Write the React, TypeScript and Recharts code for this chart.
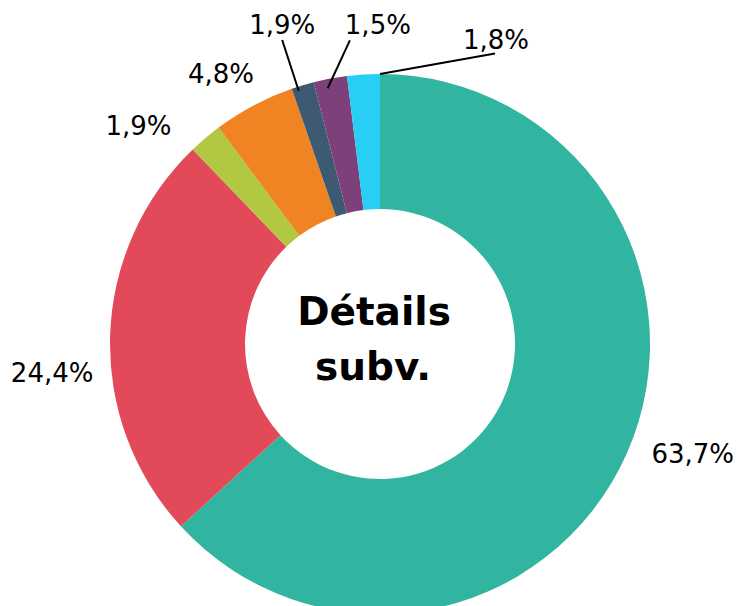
import React from 'react';
import { PieChart, Pie, Cell, Label } from 'recharts';

// slices, clockwise from 12 o'clock
const categories = ['Subv. A', 'Subv. B', 'Subv. C', 'Subv. D', 'Subv. E', 'Subv. F', 'Subv. G'];
const shares = [63.2, 24.6, 2.0, 4.9, 1.35, 2.0, 1.95];
// percentages as printed next to each slice
const printed = [63.7, 24.4, 1.9, 4.8, 1.9, 1.5, 1.8];
const centerTitle = ['Détails', 'subv.'];

const colors = ['#31B4A0', '#E24A5A', '#B2C842', '#F08422', '#3E5A73', '#7E407A', '#26CFF3'];

// label layout tweaks (text baseline shift from the slice's mid-angle anchor)
const labelNudge = [
    { dx: 29, dy: -6 },
    { dx: -18, dy: 48 },
    { dx: -41, dy: 27 },
    { dx: -14, dy: 13 },
    { dx: -9, dy: -13 },
    { dx: 55, dy: -5 },
    { dx: 135, dy: 14 },
];

// leader lines for the thin slices: start angle shift / radius, end relative to label baseline
const leaders: Record<number, { da: number; r: number; ex: number; ey: number }> = {
    4: { da: 1.15, r: 266, ex: 0, ey: 6 },
    5: { da: 0.94, r: 261, ex: -28, ey: 6 },
    6: { da: -3.51, r: 270, ex: -1, ey: 5 },
};

const data = categories.map((name, i) => ({ name, value: shares[i], printed: printed[i] }));

const RAD = Math.PI / 180;
const FONT = '"DejaVu Sans", Verdana, sans-serif';

const fmt = (v: number) => v.toFixed(1).replace('.', ',') + '%';

const renderLabel = (props: any) => {
    const { cx, cy, midAngle, outerRadius, index } = props;
    const r = outerRadius + 40;
    const bx = cx + r * Math.cos(-midAngle * RAD);
    const by = cy + r * Math.sin(-midAngle * RAD);
    const n = labelNudge[index];
    const x = bx + n.dx;
    const y = by + n.dy;
    const lead = leaders[index];
    let line = null;
    if (lead) {
        const a = midAngle + lead.da;
        const sx = cx + lead.r * Math.cos(-a * RAD);
        const sy = cy + lead.r * Math.sin(-a * RAD);
        line = <line x1={sx} y1={sy} x2={x + lead.ex} y2={y + lead.ey} stroke="#000" strokeWidth={2} />;
    }
    return (
        <g key={`lbl-${index}`}>
            {line}
            <text x={x} y={y} textAnchor="middle" fill="#000" fontFamily={FONT} fontSize={26}>
                {fmt(data[index].printed)}
            </text>
        </g>
    );
};

const renderCenter = (props: any) => {
    const vb = props.viewBox || {};
    const cx = vb.cx ?? 380;
    const cy = vb.cy ?? 344;
    return (
        <g>
            <text x={cx - 6} y={cy - 19} textAnchor="middle" fill="#000" fontFamily={FONT} fontWeight="bold" fontSize={39}>
                {centerTitle[0]}
            </text>
            <text x={cx - 7} y={cy + 36} textAnchor="middle" fill="#000" fontFamily={FONT} fontWeight="bold" fontSize={39}>
                {centerTitle[1]}
            </text>
        </g>
    );
};

export default function App() {
    return (
        <div style={{ position: 'absolute', left: 0, top: 0, width: 739, height: 606, background: '#fff', overflow: 'hidden' }}>
            <PieChart width={739} height={606} margin={{ top: 0, right: 0, bottom: 0, left: 0 }}>
                <Pie
                    data={data}
                    dataKey="value"
                    nameKey="name"
                    cx={380}
                    cy={344}
                    innerRadius={135}
                    outerRadius={270}
                    startAngle={90}
                    endAngle={-270}
                    stroke="none"
                    label={renderLabel}
                    labelLine={false}
                    isAnimationActive={false}
                >
                    {data.map((d, i) => (
                        <Cell key={d.name} fill={colors[i]} />
                    ))}
                    <Label position="center" content={renderCenter} />
                </Pie>
            </PieChart>
        </div>
    );
}
